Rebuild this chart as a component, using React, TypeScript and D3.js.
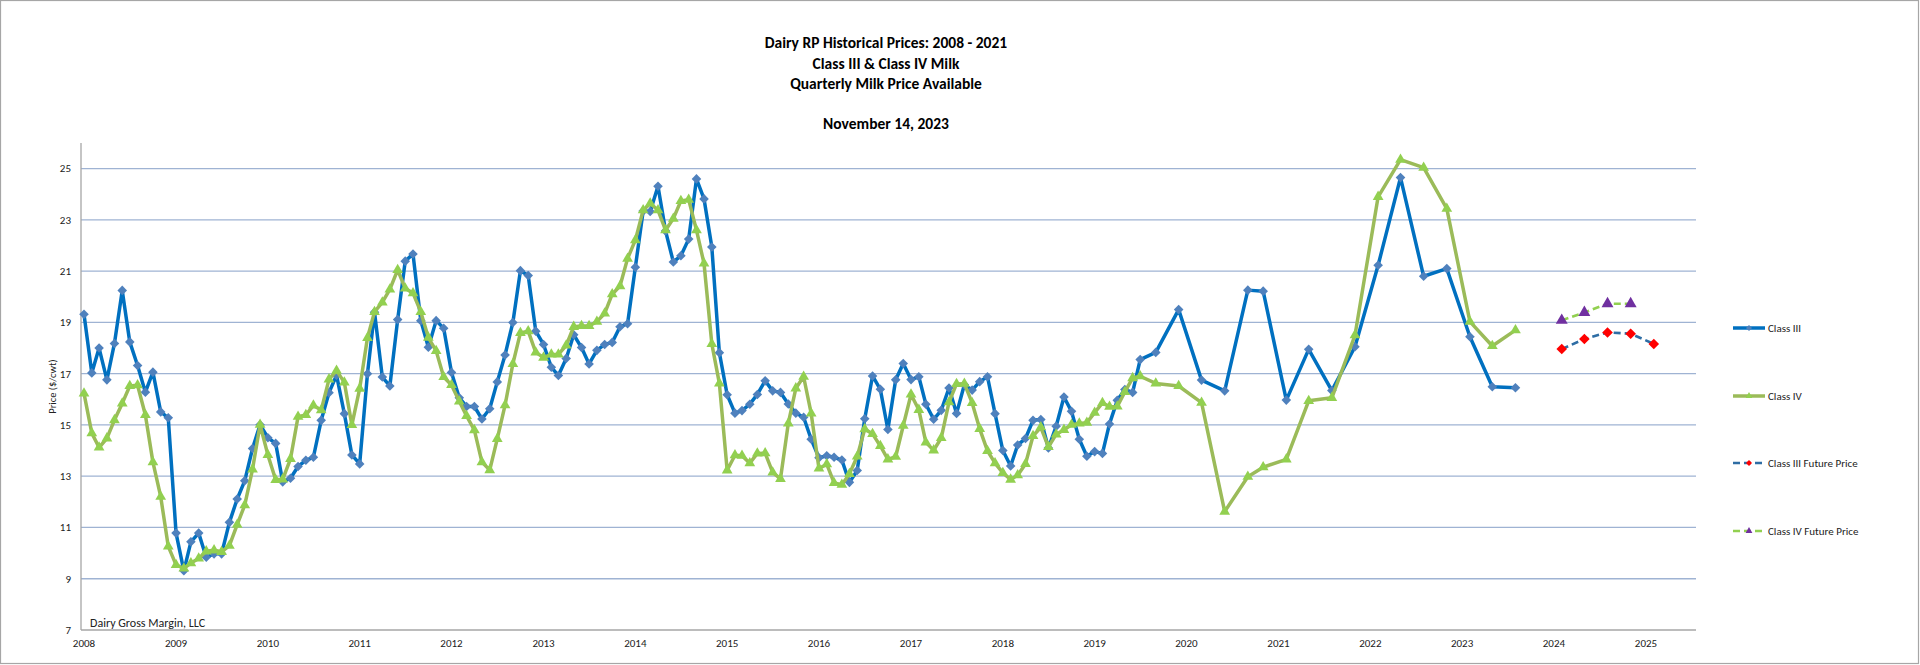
import * as d3 from "d3";

// ---- data ----
const titleLines = [
  "Dairy RP Historical Prices: 2008 - 2021",
  "Class III & Class IV Milk",
  "Quarterly Milk Price Available",
];
const dateLine = "November 14, 2023";
const yTicks = [7, 9, 11, 13, 15, 17, 19, 21, 23, 25];
const xTickYears = [2008, 2009, 2010, 2011, 2012, 2013, 2014, 2015, 2016, 2017, 2018, 2019, 2020, 2021, 2022, 2023, 2024, 2025];

// monthly prices, Jan 2008 .. Jul 2019
const monthlyStart = "2008-01";
const class3Monthly = [
  19.32, 17.03, 18.0, 16.76, 18.18, 20.25, 18.24, 17.32, 16.28, 17.06, 15.51, 15.28,
  10.78, 9.31, 10.44, 10.78, 9.84, 9.97, 9.97, 11.2, 12.11, 12.82, 14.08, 15.01,
  14.5, 14.28, 12.78, 12.92, 13.38, 13.62, 13.74, 15.18, 16.26, 16.94, 15.44, 13.83,
  13.48, 17.0, 19.4, 16.87, 16.52, 19.11, 21.39, 21.67, 19.07, 18.03, 19.07, 18.77,
  17.05, 16.06, 15.72, 15.72, 15.23, 15.63, 16.68, 17.73, 19.0, 21.02, 20.83, 18.66,
  18.14, 17.25, 16.93, 17.59, 18.52, 18.02, 17.38, 17.91, 18.14, 18.22, 18.83, 18.95,
  21.15, 23.35, 23.33, 24.31, 22.57, 21.36, 21.6, 22.25, 24.6, 23.82, 21.94, 17.82,
  16.18, 15.46, 15.56, 15.81, 16.19, 16.72, 16.33, 16.27, 15.82, 15.46, 15.3, 14.44,
  13.72, 13.8, 13.74, 13.63, 12.76, 13.22, 15.24, 16.91, 16.39, 14.82, 16.76, 17.4,
  16.77, 16.88, 15.81, 15.22, 15.57, 16.44, 15.45, 16.57, 16.36, 16.69, 16.88, 15.44,
  14.0, 13.4, 14.22, 14.47, 15.18, 15.21, 14.1, 14.95, 16.09, 15.53, 14.44, 13.78,
  13.96, 13.89, 15.04, 15.96, 16.38, 16.27, 17.55,
];
const class4Monthly = [
  16.23, 14.68, 14.12, 14.48, 15.19, 15.84, 16.52, 16.55, 15.39, 13.55, 12.2, 10.26,
  9.54, 9.4, 9.61, 9.79, 10.07, 10.11, 10.05, 10.29, 11.11, 11.87, 13.27, 15.01,
  13.83, 12.86, 12.88, 13.68, 15.32, 15.39, 15.76, 15.58, 16.78, 17.12, 16.66, 15.0,
  16.42, 18.4, 19.41, 19.78, 20.29, 21.05, 20.33, 20.14, 19.41, 18.41, 17.89, 16.87,
  16.56, 15.92, 15.35, 14.8, 13.55, 13.24, 14.46, 15.77, 17.38, 18.59, 18.66, 17.83,
  17.63, 17.75, 17.75, 18.1, 18.83, 18.86, 18.86, 19.03, 19.35, 20.1, 20.42, 21.49,
  22.21, 23.38, 23.64, 23.38, 22.6, 23.05, 23.74, 23.79, 22.6, 21.3, 18.16, 16.62,
  13.23, 13.82, 13.8, 13.51, 13.89, 13.9, 13.15, 12.9, 15.06, 16.43, 16.88, 15.45,
  13.3, 13.47, 12.74, 12.67, 13.09, 13.77, 14.84, 14.65, 14.18, 13.66, 13.76, 14.97,
  16.19, 15.59, 14.32, 14.01, 14.49, 15.89, 16.6, 16.61, 15.86, 14.85, 13.99, 13.51,
  13.13, 12.87, 13.04, 13.48, 14.57, 14.91, 14.14, 14.63, 14.81, 15.01, 15.06, 15.09,
  15.48, 15.86, 15.71, 15.72, 16.29, 16.83, 16.9,
];

// quarterly prices after mid 2019
const quarterlyDates = [
  "2019-09", "2019-12", "2020-03", "2020-06", "2020-09", "2020-11",
  "2021-02", "2021-05", "2021-08", "2021-11", "2022-02", "2022-05",
  "2022-08", "2022-11", "2023-02", "2023-05", "2023-08",
];
const class3Quarterly = [17.83, 19.5, 16.75, 16.33, 20.26, 20.22, 15.97, 17.95, 16.34, 18.05, 21.23, 24.65, 20.8, 21.1, 18.44, 16.49, 16.45];
const class4Quarterly = [16.62, 16.52, 15.87, 11.62, 12.98, 13.35, 13.66, 15.94, 16.06, 18.5, 23.9, 25.35, 25.04, 23.44, 19.03, 18.08, 18.7];

// futures
const futureDates = ["2024-02", "2024-05", "2024-08", "2024-11", "2025-02"];
const class3Future = [17.96, 18.35, 18.61, 18.56, 18.16];
const class4Future = [19.08, 19.39, 19.73, 19.73];

const legendItems = ["Class III", "Class IV", "Class III Future Price", "Class IV Future Price"];

type Pt = { date: Date; value: number };

const parseMonth = d3.timeParse("%Y-%m");

function buildSeries(monthly: number[], qValues: number[]): Pt[] {
  const start = parseMonth(monthlyStart)!;
  const a = monthly.map((v, i) => ({ date: d3.timeMonth.offset(start, i), value: v }));
  const b = qValues.map((v, i) => ({ date: parseMonth(quarterlyDates[i])!, value: v }));
  return a.concat(b);
}

const FONT = "Carlito, Lato, 'Open Sans', sans-serif";

export default function App() {
  const W = 1920;
  const H = 665;
  const left = 81;
  const right = 1696;
  const top = 143;
  const bottom = 630;

  const x = d3
    .scaleTime()
    .domain([new Date(2008, 0, 1), new Date(2025, 0, 1)])
    .range([84, 1646]);
  const y = d3.scaleLinear().domain([7, 26]).range([bottom, top]);

  const class3 = buildSeries(class3Monthly, class3Quarterly);
  const class4 = buildSeries(class4Monthly, class4Quarterly);
  const fut3 = class3Future.map((v, i) => ({ date: parseMonth(futureDates[i])!, value: v }));
  const fut4 = class4Future.map((v, i) => ({ date: parseMonth(futureDates[i])!, value: v }));

  const line = d3
    .line<Pt>()
    .x((d) => x(d.date))
    .y((d) => y(d.value));

  const diamond = d3.symbol(d3.symbolSquare, 46)()!;
  const diamondBig = d3.symbol(d3.symbolSquare, 56)()!;
  const diamondSmall = d3.symbol(d3.symbolSquare, 18)()!;
  const triangle = d3.symbol(d3.symbolTriangle, 50)()!;
  const triangleBig = d3.symbol(d3.symbolTriangle, 62)()!;
  const triangleSmall = d3.symbol(d3.symbolTriangle, 20)()!;

  const legendX = 1733;
  const legendYs = [328, 396, 463, 531];

  return (
    <div style={{ position: "absolute", left: 0, top: 0 }}>
      <svg width={W} height={H} style={{ display: "block", fontFamily: FONT }}>
        <rect x={0} y={0} width={W} height={H} fill="#ffffff" />
        <rect x={0.5} y={0.5} width={1918} height={663} fill="none" stroke="#a6a6a6" strokeWidth={1.2} />

        {/* titles */}
        {titleLines.map((t, i) => (
          <text key={t} x={886} y={48 + i * 20.5} textAnchor="middle" fontSize={15.5} fontWeight="bold" fill="#000">
            {t}
          </text>
        ))}
        <text x={886} y={129} textAnchor="middle" fontSize={15.5} fontWeight="bold" fill="#000">
          {dateLine}
        </text>

        {/* gridlines */}
        {yTicks
          .filter((t) => t > 7)
          .map((t) => (
            <line key={t} x1={left} x2={right} y1={y(t)} y2={y(t)} stroke="#9fb3d3" strokeWidth={1.3} />
          ))}

        {/* axes */}
        <line x1={left} x2={left} y1={top} y2={bottom} stroke="#a6a6a6" strokeWidth={1.3} />
        <line x1={left} x2={right} y1={bottom} y2={bottom} stroke="#a6a6a6" strokeWidth={1.3} />

        {yTicks.map((t) => (
          <text key={t} x={71} y={y(t)} dy="0.35em" textAnchor="end" fontSize={11} fill="#222">
            {t}
          </text>
        ))}
        {xTickYears.map((yr) => (
          <text key={yr} x={x(new Date(yr, 0, 1))} y={647} textAnchor="middle" fontSize={11} fill="#222">
            {yr}
          </text>
        ))}
        <text
          transform={`translate(52,${(top + bottom) / 2}) rotate(-90)`}
          textAnchor="middle"
          dy="0.35em"
          fontSize={10.5}
          fill="#222"
        >
          Price ($/cwt)
        </text>
        <text x={90} y={627} fontSize={12} fill="#222">
          Dairy Gross Margin, LLC
        </text>

        {/* Class III */}
        <path d={line(class3)!} fill="none" stroke="#0070c0" strokeWidth={3.5} strokeLinejoin="round" />
        {class3.map((d, i) => (
          <path
            key={i}
            d={diamond}
            transform={`translate(${x(d.date)},${y(d.value)}) rotate(45)`}
            fill="#4f81bd"
          />
        ))}

        {/* Class IV */}
        <path d={line(class4)!} fill="none" stroke="#9bbb59" strokeWidth={3.5} strokeLinejoin="round" />
        {class4.map((d, i) => (
          <path key={i} d={triangle} transform={`translate(${x(d.date)},${y(d.value)})`} fill="#92d050" />
        ))}

        {/* futures */}
        <path d={line(fut3)!} fill="none" stroke="#2e6da4" strokeWidth={2.6} strokeDasharray="7,4" />
        {fut3.map((d, i) => (
          <path
            key={i}
            d={diamondBig}
            transform={`translate(${x(d.date)},${y(d.value)}) rotate(45)`}
            fill="#ff0000"
          />
        ))}
        <path d={line(fut4)!} fill="none" stroke="#92d050" strokeWidth={2.6} strokeDasharray="7,4" />
        {fut4.map((d, i) => (
          <path key={i} d={triangleBig} transform={`translate(${x(d.date)},${y(d.value)})`} fill="#7030a0" />
        ))}

        {/* legend */}
        {legendItems.map((name, i) => {
          const ly = legendYs[i];
          const dashed = i >= 2;
          const stroke = i === 0 ? "#0070c0" : i === 1 ? "#9bbb59" : i === 2 ? "#2e6da4" : "#92d050";
          const mfill = i === 0 ? "#4f81bd" : i === 1 ? "#92d050" : i === 2 ? "#ff0000" : "#7030a0";
          const isDiamond = i === 0 || i === 2;
          return (
            <g key={name}>
              <line
                x1={legendX}
                x2={legendX + 32}
                y1={ly}
                y2={ly}
                stroke={stroke}
                strokeWidth={dashed ? 2.6 : 3.5}
                strokeDasharray={dashed ? "7,4" : undefined}
              />
              <path
                d={isDiamond ? diamondSmall : triangleSmall}
                transform={`translate(${legendX + 16},${ly}) ${isDiamond ? "rotate(45)" : ""}`}
                fill={mfill}
              />
              <text x={legendX + 35} y={ly} dy="0.35em" fontSize={11} fill="#222">
                {name}
              </text>
            </g>
          );
        })}
      </svg>
    </div>
  );
}
